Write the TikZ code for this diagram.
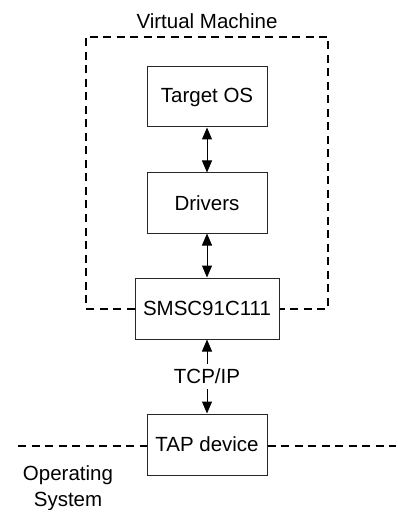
\documentclass[tikz,border=0pt]{standalone}
\usepackage{fontspec}
\setmainfont{Liberation Sans}
\usetikzlibrary{arrows.meta}
\begin{document}
\begin{tikzpicture}[x=1pt,y=-1pt,
  every node/.style={font=\fontsize{20.5}{26}\selectfont},
  box/.style={draw=black!85, line width=1pt, minimum width=120pt, minimum height=60pt, inner sep=0pt},
  dline/.style={line width=2pt, dash pattern=on 8pt off 5.5pt},
  link/.style={line width=1pt, {Triangle[width=10pt,length=12pt]}-{Triangle[width=10pt,length=12pt]}}
]
\useasboundingbox (0,0) rectangle (398,510);
\node[box] (tos) at (207,97) {Target OS};
\node[box] (drv) at (207,203) {Drivers};
\node[box, minimum width=144pt, minimum height=61pt] (smsc) at (207,308.5) {SMSC91C111};
\node[box, minimum height=61pt] (tap) at (207,444.5) {TAP device};
\node (vm) at (207,21) {Virtual Machine};
\node[align=center] (os) at (68,488.5) {Operating\\System};
\coordinate (bl) at (86,308.5);
\coordinate (tl) at (86,36.7);
\coordinate (tr) at (328,36.7);
\coordinate (br) at (328,308.5);
\coordinate (hl) at (18,446);
\coordinate (hr) at (396,446);
\draw[dline] (smsc.west) -- (bl) -- (tl) -- (tr) -- (br) -- (smsc.east);
\draw[dline] (hl) -- (tap.west |- hl);
\draw[dline] (tap.east |- hr) -- (hr);
\draw[link] (tos.south) -- (drv.north);
\draw[link] (drv.south) -- (smsc.north);
\draw[link] (smsc.south) -- node[fill=white, inner xsep=3pt, inner ysep=5pt] (tcp) {TCP/IP} (tap.north);
\end{tikzpicture}
\end{document}
